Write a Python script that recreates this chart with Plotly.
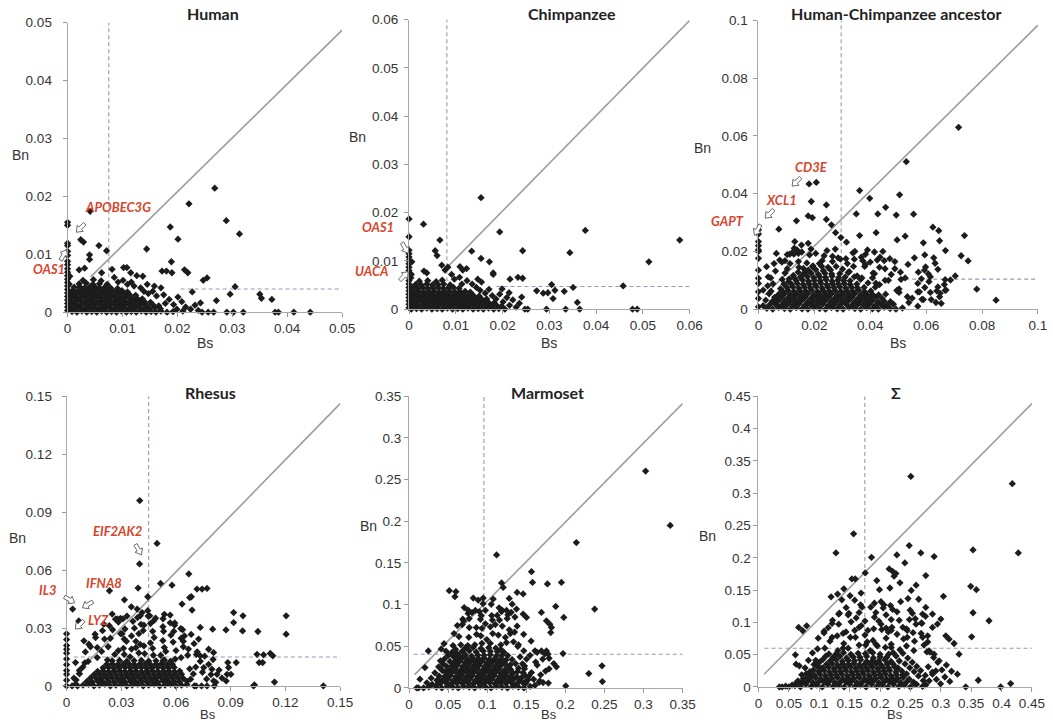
import math
import plotly.graph_objects as go

W, H = 1053, 728

# ================= DATA: (Bs, Bn) per gene =================
human_pts = [
 (.0008,.0001),(.0017,0),(.0026,.0002),(.0035,0),(.0044,.0001),(.0053,0),(.0062,.0002),(.0071,0),(.008,.0001),(.0089,0),(.0098,.0002),(.0107,0),(.0116,.0001),(.0125,0),(.0134,.0002),(.0143,0),(.0152,.0001),(.0161,0),(.017,.0002),(.0181,0),(.0192,.0001),
 (.0004,.0007),(.0013,.0006),(.0022,.0008),(.0031,.0006),(.004,.0007),(.0049,.0008),(.0058,.0006),(.0067,.0007),(.0076,.0008),(.0085,.0006),(.0094,.0007),(.0103,.0008),(.0112,.0006),(.0121,.0007),(.013,.0008),(.0139,.0006),(.0148,.0007),(.0158,.0008),(.0169,.0006),
 (.0008,.0013),(.0017,.0012),(.0026,.0014),(.0035,.0012),(.0044,.0013),(.0053,.0014),(.0062,.0012),(.0071,.0013),(.008,.0014),(.0089,.0012),(.0098,.0013),(.0107,.0014),(.0116,.0012),(.0125,.0013),(.0134,.0014),(.0143,.0012),(.0155,.0013),(.0166,.0011),
 (.0004,.0019),(.0013,.0018),(.0022,.002),(.0031,.0018),(.004,.0019),(.0049,.002),(.0058,.0018),(.0067,.0019),(.0076,.002),(.0085,.0018),(.0094,.0019),(.0103,.002),(.0112,.0018),(.0121,.0019),(.013,.002),(.014,.0018),(.0151,.0017),
 (.0008,.0025),(.0017,.0024),(.0026,.0026),(.0035,.0024),(.0044,.0025),(.0053,.0026),(.0062,.0024),(.0071,.0025),(.008,.0026),(.0089,.0024),(.0098,.0025),(.0107,.0026),(.0116,.0024),(.0125,.0025),(.0136,.0023),
 (.0004,.0031),(.0013,.003),(.0022,.0032),(.0031,.003),(.004,.0031),(.0049,.0032),(.0058,.003),(.0067,.0031),(.0076,.0032),(.0085,.003),(.0094,.0031),(.0103,.0032),(.0113,.003),(.0124,.0029),
 (.0009,.0037),(.0018,.0036),(.0027,.0038),(.0036,.0036),(.0045,.0037),(.0054,.0038),(.0063,.0036),(.0072,.0037),(.0081,.0038),(.009,.0036),(.0099,.0037),(.0109,.0035),
 (.0012,.0043),(.0022,.0044),(.0031,.0042),(.004,.0043),(.0049,.0044),(.0058,.0042),(.0068,.0043),(.0078,.0042),(.0091,.0041),
 (.0021,.0049),(.0034,.005),(.0046,.0048),(.0058,.0049),(.0072,.0048),(.0028,.0055),(.0047,.0056),(.0061,.0054),
 (0,.0003),(0,.0009),(0,.0015),(0,.0021),(0,.0027),(0,.0033),(0,.0039),(0,.0045),(0,.0051),(0,.0057),(0,.0063),(0,.0069),(0,.0075),(.0003,.0048),(.0004,.0062),
 (.0155,.0036),(.0162,.0028),(.0175,.003),(.0185,.0022),(.0178,.0015),(.0193,.0013),(.0201,.0026),(.0208,.0018),(.0215,.0009),(.0224,.0005),(.0232,.0012),(.017,.0042),(.0158,.0045),(.0145,.0048),(.0133,.0042),(.0139,.0036),(.0121,.0045),(.0109,.0048),(.0101,.0055),(.0092,.0052),(.0085,.006),(.0116,.0052),(.0147,.0032),(.0199,.0005),(.021,.0002),(.0238,.0003),
 (.0268,.0214),(.0221,.0187),(.0041,.0174),(.0289,.0158),(.0313,.0135),(.0187,.0147),(.0201,.0126),(0,.0155),(0,.015),(.0024,.0125),(.0029,.0121),(.0057,.0115),(.0071,.0106),(.0144,.0109),(0,.0119),(0,.0115),(.004,.0099),(.004,.0091),(.0189,.0087),(.0081,.0074),(.0102,.0077),(.0108,.0077),(.0172,.0071),(.018,.0071),(.019,.0068),(.0213,.0073),(.0219,.0068),(.0254,.0059),(.0247,.0055),(.0305,.0044),(.035,.0031),(.0353,.0024),(.0372,.0022),(.0296,.0031),(.0271,.002),(.0242,.0016),(.0245,0),(.0256,0),(.0266,0),(.029,0),(.0302,0),(.032,0),(.0378,0),(.0384,0),(.0412,0),(.0442,0),(.0227,.0035),(.0021,.0073),(.0031,.0076),(.0062,.0068),(.0115,.0068),(.0126,.0063),(.0137,.0062),(0,.0105),(0,.0098),(0,.0088),(0,.0082),
]

chimp_pts = [
 (.0005,0),(.0016,.0001),(.0027,0),(.0038,.0002),(.0049,0),(.006,.0001),(.0071,0),(.0082,.0002),(.0093,0),(.0104,.0001),(.0115,0),(.0126,.0002),(.0137,0),(.0148,.0001),(.0159,0),(.017,.0002),(.0181,0),(.0192,.0001),(.0205,0),
 (.001,.0008),(.0021,.0007),(.0032,.0009),(.0043,.0007),(.0054,.0008),(.0065,.0009),(.0076,.0007),(.0087,.0008),(.0098,.0009),(.0109,.0007),(.012,.0008),(.0131,.0009),(.0142,.0007),(.0153,.0008),(.0164,.0009),(.0175,.0007),(.0187,.0008),(.0198,.0006),
 (.0005,.0015),(.0016,.0014),(.0027,.0016),(.0038,.0014),(.0049,.0015),(.006,.0016),(.0071,.0014),(.0082,.0015),(.0093,.0016),(.0104,.0014),(.0115,.0015),(.0126,.0016),(.0137,.0014),(.0148,.0015),(.0159,.0016),(.017,.0014),(.0182,.0013),
 (.001,.0022),(.0021,.0023),(.0032,.0021),(.0043,.0022),(.0054,.0023),(.0065,.0021),(.0076,.0022),(.0087,.0023),(.0098,.0021),(.0109,.0022),(.012,.0023),(.0131,.0021),(.0142,.0022),(.0153,.0023),(.0166,.0021),
 (.0005,.0029),(.0016,.003),(.0027,.0028),(.0038,.0029),(.0049,.003),(.006,.0028),(.0071,.0029),(.0082,.003),(.0093,.0028),(.0104,.0029),(.0115,.003),(.0126,.0028),(.0137,.0029),(.015,.0027),
 (.001,.0036),(.0021,.0037),(.0032,.0035),(.0043,.0036),(.0054,.0037),(.0065,.0035),(.0076,.0036),(.0087,.0037),(.0098,.0035),(.0109,.0036),(.012,.0037),(.0131,.0035),
 (.0007,.0044),(.0018,.0043),(.0029,.0045),(.004,.0043),(.0051,.0044),(.0062,.0045),(.0073,.0043),(.0084,.0044),(.0095,.0045),(.0107,.0043),
 (.0014,.0051),(.0026,.005),(.0038,.0052),(.005,.005),(.0062,.0051),(.0074,.0052),(.0088,.005),(.0022,.0058),(.004,.0059),(.0058,.0057),(.0071,.006),
 (0,.0003),(0,.001),(0,.0017),(0,.0024),(0,.0031),(0,.0038),(0,.0045),(0,.0052),(0,.0059),(0,.0066),(0,.0073),(0,.008),(0,.0087),(0,.0094),(0,.0101),(0,.0108),(0,.0115),(0,.0122),(.0004,.0065),(.0005,.0072),(.0006,.0098),
 (.0135,.0052),(.0144,.0045),(.0152,.0039),(.0163,.0033),(.0171,.0041),(.0178,.0028),(.0186,.0021),(.0194,.0031),(.0201,.0015),(.0209,.0024),(.0215,.0008),(.0222,.0019),(.0229,.0004),(.0236,.0012),(.0241,.0025),(.0214,.0034),(.0199,.0042),(.0124,.0059),(.0113,.0052),(.0108,.0066),(.0097,.0062),(.0147,.0062),(.0155,.0056),
 (.0154,.0231),(.0031,.0176),(0,.0187),(0,.015),(.0066,.0143),(.0194,.016),(.0377,.0163),(.0579,.0143),(.0056,.0121),(.006,.0111),(.0134,.012),(.0243,.0121),(.0344,.0117),(.0154,.0105),(.0172,.0098),(.0513,.0098),(.018,.0075),(.018,.0072),(.0216,.0062),(.0233,.0066),(.0243,.0064),(.0273,.0038),(.0287,.0033),(.0297,.0034),(.0305,.0051),(.0308,.0022),(.0312,.0039),(.0332,.0037),(.0351,.0045),(.0458,.0048),(.036,.0014),(.0248,0),(.0254,0),(.0294,0),(.0335,0),(.0365,0),(.0478,0),(.0488,0),(.007,.0091),(.0077,.0081),(.0109,.0088),(.0115,.0081),(.0123,.0084),(.0032,.0079),(.0038,.0075),(.0083,.0087),(.0091,.0072),
]

ancestor_pts = [
 (.003,.0003),(.0051,0),(.0072,.0006),(.0093,.0002),(.0114,0),(.0135,.0005),(.0156,.0001),(.0177,0),(.0198,.0006),(.0219,.0002),(.024,0),(.0261,.0005),(.0282,.0001),(.0303,0),(.0324,.0006),(.0345,.0002),(.0366,0),(.0387,.0005),(.0408,.0001),(.0429,0),(.045,.0006),(.0471,.0002),(.0492,0),(.0515,.0004),
 (.004,.0015),(.0061,.0017),(.0082,.0013),(.0103,.0016),(.0124,.0014),(.0145,.0018),(.0166,.0013),(.0187,.0016),(.0208,.0015),(.0229,.0017),(.025,.0013),(.0271,.0016),(.0292,.0014),(.0313,.0018),(.0334,.0013),(.0355,.0016),(.0376,.0015),(.0397,.0017),(.0418,.0013),(.0439,.0016),(.046,.0014),(.0483,.0017),
 (.005,.0027),(.0071,.0029),(.0092,.0025),(.0113,.0028),(.0134,.0026),(.0155,.003),(.0176,.0025),(.0197,.0028),(.0218,.0027),(.0239,.0029),(.026,.0025),(.0281,.0028),(.0302,.0026),(.0323,.003),(.0344,.0025),(.0365,.0028),(.0386,.0027),(.0407,.0029),(.0428,.0025),(.0449,.0028),(.0472,.0026),
 (.0062,.0039),(.0083,.0041),(.0104,.0037),(.0125,.004),(.0146,.0038),(.0167,.0042),(.0188,.0037),(.0209,.004),(.023,.0039),(.0251,.0041),(.0272,.0037),(.0293,.004),(.0314,.0038),(.0335,.0042),(.0356,.0037),(.0377,.004),(.0398,.0039),(.0419,.0041),(.0442,.0037),
 (.0072,.0051),(.0093,.0053),(.0114,.0049),(.0135,.0052),(.0156,.005),(.0177,.0054),(.0198,.0049),(.0219,.0052),(.024,.0051),(.0261,.0053),(.0282,.0049),(.0303,.0052),(.0324,.005),(.0345,.0054),(.0366,.0049),(.0387,.0052),(.0408,.0051),(.043,.0049),
 (.0085,.0063),(.0106,.0065),(.0127,.0061),(.0148,.0064),(.0169,.0062),(.019,.0066),(.0211,.0061),(.0232,.0064),(.0253,.0063),(.0274,.0065),(.0295,.0061),(.0316,.0064),(.0337,.0062),(.0358,.0066),(.0379,.0061),(.0402,.0063),
 (.0102,.0075),(.0123,.0077),(.0144,.0073),(.0165,.0076),(.0186,.0074),(.0207,.0078),(.0228,.0073),(.0249,.0076),(.027,.0075),(.0291,.0077),(.0312,.0073),(.0333,.0076),(.0354,.0074),(.0378,.0075),
 (.0118,.0087),(.0139,.0089),(.016,.0085),(.0181,.0088),(.0202,.0086),(.0223,.009),(.0244,.0085),(.0265,.0088),(.0286,.0087),(.0307,.0089),(.0328,.0085),(.0352,.0087),
 (.0135,.0099),(.0158,.0101),(.0179,.0097),(.02,.01),(.0221,.0098),(.0242,.0102),(.0263,.0097),(.0284,.01),(.0305,.0099),(.0328,.0098),
 (.015,.0111),(.0175,.0113),(.0198,.0109),(.0219,.0112),(.024,.011),(.0263,.0114),(.0287,.0109),(.031,.0111),
 (.0162,.0123),(.0189,.0125),(.0214,.0121),(.0238,.0124),(.0262,.0122),(.0291,.0123),(.0178,.0135),(.0205,.0137),(.0232,.0133),(.0258,.0136),(.0193,.0147),(.0226,.0149),(.0249,.0145),
 (.0455,.0052),(.0418,.0076),(.0392,.0091),(.0365,.0103),(.0343,.0112),(.0321,.0127),(.0301,.0139),(.0278,.0148),(.0079,.0071),(.0091,.0087),(.0108,.0095),(.0125,.0117),(.0142,.0128),(.0161,.0141),(.0058,.0041),
 (.0085,.0103),(.011,.0105),(.0128,.0108),(.0353,.0115),(.037,.0108),(.0408,.0108),(.0415,.0123),(.0453,.01),(.0475,.012),
 (.0095,.0125),(.0103,.014),(.0145,.0145),(.0168,.013),(.0325,.013),(.034,.0148),(.038,.0148),(.041,.0125),(.0433,.0145),(.0453,.014),(.0488,.014),(.0508,.0128),
 (.0095,.0168),(.0113,.0158),(.0143,.0165),(.0173,.016),(.0195,.015),(.0218,.0158),(.0228,.0168),(.0265,.0165),(.0293,.0173),(.0318,.0158),(.0343,.0173),(.0373,.0168),(.0383,.0155),(.04,.0163),(.0425,.017),(.045,.0168),(.0488,.0165),
 (.012,.0195),(.0143,.0193),(.0155,.0198),(.0183,.0188),(.0205,.0193),(.0235,.0185),(.0265,.0183),(.0285,.0178),(.0313,.0175),(.0338,.0195),(.0368,.018),(.0383,.019),(.0415,.0198),(.0435,.018),(.047,.0175),
 (.0138,.0205),(.0188,.0208),(.0245,.0203),(.0275,.0208),(.0345,.02),(.039,.0205),(.0445,.02),
 (.0538,.0023),(.057,.001),(.059,.0033),(.0618,.0033),(.0635,.0023),(.0503,.0058),(.0533,.0043),(.055,.0038),(.0615,.0058),(.065,.0055),
 (.0495,.0065),(.0503,.007),(.057,.006),(.0595,.0075),(.0638,.0063),(.0668,.0065),(.042,.009),(.0433,.0085),(.0465,.01),(.051,.0103),(.0525,.0108),(.0583,.0105),(.061,.0095),(.0665,.0085),
 (.0535,.0155),(.0572,.0128),(.0598,.0146),(.0615,.0112),(.0558,.0178),(.0642,.0138),(.0595,.0188),(.0668,.0102),
 (.0038,.0053),(.0026,.0031),(.0017,.0012),(.0044,.0108),(.0061,.0132),(.0084,.0163),(.0103,.0189),(.0128,.0211),(.0033,.0081),(.0056,.0158),(.0045,.0062),(.0052,.0088),
 (.0716,.063),(.0529,.0511),(.0181,.0434),(.0207,.0439),(.0362,.0411),(.0398,.0384),(.0505,.0396),(.0189,.0373),(.0243,.0361),(.0455,.0353),(.035,.033),(.0427,.033),(.0493,.0326),(.0555,.0329),(.0178,.0323),(.0193,.0317),(.0136,.0306),(.0243,.0311),(.0261,.0292),(.0073,.0277),(0,.0275),(0,.026),(0,.022),(0,.02),(.0624,.0284),(.0645,.0272),(.0737,.0255),(.0362,.0255),(.0421,.0265),(.0496,.024),(.0525,.0253),(.059,.023),(.0648,.0237),(.0669,.0203),(.0725,.0185),(.075,.0167),(.0627,.0178),(.0632,.0159),(.0704,.0115),(.0687,.0101),(.0781,.0069),(.085,.0031),(.0594,.0135),(.0608,.0122),(.0642,.0077),(.0648,.0043),(.0654,.002),(.0671,.0066),(.057,.0089),(.0576,.006),(.0585,.0034),(.013,.0234),(.0154,.0222),(.0178,.0228),(.0112,.0191),(.0127,.0191),(.0064,.0193),(.0076,.017),(.0029,.0147),(.0035,.0112),(.0017,.0066),(0,.0234),(0,.0205),(0,.0176),(0,.0135),(0,.0107),(0,.0089),(0,.006),(0,.0037),(0,.0008),(.0276,.0265),(.0295,.0248),(.0315,.0232),
]

rhesus_pts = [
 (.006,0),(.009,.0004),(.012,.0008),(.015,0),(.018,.0004),(.021,.0008),(.024,0),(.027,.0004),(.03,.0008),(.033,0),(.036,.0004),(.039,.0008),(.042,0),(.045,.0004),(.048,.0008),(.051,0),(.054,.0004),(.057,.0008),(.06,0),(.063,.0004),(.066,.0008),(.07,0),
 (.011,.0022),(.014,.002),(.017,.0025),(.02,.0021),(.023,.0023),(.026,.002),(.029,.0025),(.032,.0021),(.035,.0023),(.038,.002),(.041,.0025),(.044,.0021),(.047,.0023),(.05,.002),(.053,.0025),(.056,.0021),(.059,.0023),(.062,.002),(.066,.0024),
 (.013,.004),(.016,.0042),(.019,.0038),(.022,.0041),(.025,.0043),(.028,.0039),(.031,.004),(.034,.0042),(.037,.0038),(.04,.0041),(.043,.0043),(.046,.0039),(.049,.004),(.052,.0042),(.055,.0038),(.058,.0041),(.061,.0043),(.064,.0039),
 (.015,.0058),(.018,.006),(.021,.0056),(.024,.0059),(.027,.0061),(.03,.0057),(.033,.0058),(.036,.006),(.039,.0056),(.042,.0059),(.045,.0061),(.048,.0057),(.051,.0058),(.054,.006),(.057,.0056),(.06,.0059),(.063,.0061),
 (.017,.0076),(.02,.0078),(.023,.0074),(.026,.0077),(.029,.0079),(.032,.0075),(.035,.0076),(.038,.0078),(.041,.0074),(.044,.0077),(.047,.0079),(.05,.0075),(.053,.0076),(.056,.0078),(.059,.0074),(.062,.0077),
 (.02,.0094),(.023,.0096),(.026,.0092),(.029,.0095),(.032,.0097),(.035,.0093),(.038,.0094),(.041,.0096),(.044,.0092),(.047,.0095),(.05,.0097),(.053,.0093),(.056,.0094),(.059,.0096),
 (.022,.0112),(.025,.0114),(.028,.011),(.031,.0113),(.034,.0115),(.037,.0111),(.04,.0112),(.043,.0114),(.046,.011),(.049,.0113),(.052,.0115),(.055,.0111),(.058,.0112),
 (.025,.013),(.029,.0132),(.033,.0128),(.037,.0131),(.041,.0133),(.045,.0129),(.049,.013),(.053,.0132),(.057,.0128),
 (.0168,.0147),(.0224,.0135),(.0264,.0163),(.0316,.0163),(.0348,.0151),(.0396,.0171),(.0428,.0167),(.0476,.0159),(.0516,.0159),(.0536,.0135),(.0596,.0139),(.0628,.0147),(.0664,.0159),(.0712,.0163),
 (.0192,.0179),(.0228,.0203),(.0284,.0183),(.0312,.0195),(.0356,.0191),(.038,.0199),(.0424,.0207),(.0472,.0195),(.0536,.0199),(.0544,.0179),(.06,.0183),(.064,.0203),(.0668,.0191),
 (.0208,.0243),(.024,.0247),(.0316,.0243),(.0328,.0231),(.038,.0231),(.0404,.0215),(.046,.0223),(.048,.0251),(.0528,.0235),(.0584,.0227),(.0628,.0247),(.064,.0231),
 (.0252,.0291),(.0296,.0271),(.0304,.0271),(.0356,.0259),(.0396,.0271),(.042,.0287),(.0472,.0283),(.0532,.0283),(.0572,.0263),(.0588,.0283),(.0636,.0291),
 (.0284,.0331),(.032,.0295),(.0372,.0299),(.0408,.0319),(.0424,.0315),(.046,.0323),(.0528,.0307),(.0568,.0327),(.0592,.0315),
 (.0308,.0347),(.0364,.0335),(.0404,.0363),(.0456,.0363),(.0488,.0351),(.0536,.0371),(.0568,.0367),
 (.0699,.0219),(.0708,.0098),(.0716,.0177),(.0724,.0243),(.0733,.0128),(.0745,.0071),(.0757,.0154),(.0768,.0036),(.0779,.0112),(.0792,.0059),(.0803,.0137),(.0818,.0019),(.0836,.0082),(.0852,.0041),(.068,.0035),(.0695,.0062),(.0675,.0089),(.071,0),(.074,0),(.077,0),
 (.0089,.0098),(.0071,.0063),(.0052,.0031),(.0118,.0127),(.0103,.0176),(.0131,.0203),(.0156,.0268),(.003,0),(.005,.001),(.01,.012),(.007,.008),(.004,.004),
 (.0197,.0286),(.0234,.0312),(.0278,.0347),(.0331,.0362),(.0389,.0354),(.0447,.0362),(.0478,.0338),(.0529,.0348),(.0593,.0326),(.0626,.0297),(.0683,.0267),(.0646,.0259),
 (.0401,.096),(.0496,.0738),(.04,.0632),(.0392,.0507),(.0235,.0493),(.0317,.0446),(.0515,.0531),(.0578,.0522),(.067,.058),(.0715,.0502),(.0743,.0502),(.077,.0505),(.0445,.0462),(.0675,.0458),(.0684,.0462),(.0633,.0424),(.0688,.0393),(.0916,.038),(.0967,.0363),(.1204,.0363),(.1204,.0268),(.0916,.0328),(.0965,.0285),(.0874,.029),(.1049,.0282),(.0801,.0294),(.0733,.0303),(.1117,.0168),(.1131,.0156),(.1044,.0164),(.108,.0161),(.1056,.0121),(.1075,.0121),(.093,.0121),(.0884,.0121),(.0888,.0095),(.088,.006),(.0901,.006),(.114,.002),(.1408,0),(.1025,0),(.103,.0005),(.0875,.0026),(.0797,.0087),(.0825,.006),(.0806,.0026),(.0733,.0156),(.0752,.0095),(.0806,.0173),(.0779,.019),(0,.027),(0,.024),(0,.021),(0,.019),(0,.017),(0,.014),(0,.011),(0,.008),(0,.006),(0,.003),(0,0),(.0049,.0121),(.0095,.0234),(.0122,.0216),(.0168,.0199),(.0159,.0251),(.0204,.032),(.025,.0372),(.0268,.0346),(.0387,.0398),(.0414,.038),(.0033,.0398),(.0067,.0337),(.0445,.039),(.0295,.035),(.0355,.041),(.081,0),
]

marmoset_pts = [
 (.035,.001),(.042,0),(.049,.002),(.056,.001),(.063,0),(.07,.002),(.077,.001),(.084,0),(.091,.002),(.098,.001),(.105,0),(.112,.002),(.119,.001),(.126,0),(.133,.002),(.14,.001),(.147,0),(.155,.002),
 (.04,.0055),(.047,.0065),(.054,.005),(.061,.006),(.068,.0055),(.075,.0065),(.082,.005),(.089,.006),(.096,.0055),(.103,.0065),(.11,.005),(.117,.006),(.124,.0055),(.131,.0065),(.138,.005),(.146,.006),
 (.043,.0097),(.05,.0105),(.057,.009),(.064,.01),(.071,.0097),(.078,.0105),(.085,.009),(.092,.01),(.099,.0097),(.106,.0105),(.113,.009),(.12,.01),(.127,.0097),(.134,.0105),(.142,.009),
 (.046,.014),(.053,.0148),(.06,.0133),(.067,.0143),(.074,.014),(.081,.0148),(.088,.0133),(.095,.0143),(.102,.014),(.109,.0148),(.116,.0133),(.123,.0143),(.13,.014),(.138,.0135),
 (.048,.018),(.055,.0188),(.062,.0173),(.069,.0183),(.076,.018),(.083,.0188),(.09,.0173),(.097,.0183),(.104,.018),(.111,.0188),(.118,.0173),(.125,.0183),(.133,.0178),
 (.052,.022),(.059,.0228),(.066,.0213),(.073,.0223),(.08,.022),(.087,.0228),(.094,.0213),(.101,.0223),(.108,.022),(.115,.0228),(.122,.0213),(.13,.0222),
 (.055,.0265),(.062,.0273),(.069,.0258),(.076,.0268),(.083,.0265),(.09,.0273),(.097,.0258),(.104,.0268),(.111,.0265),(.118,.0273),(.126,.026),
 (.058,.031),(.065,.0318),(.072,.0303),(.079,.0313),(.086,.031),(.093,.0318),(.1,.0303),(.107,.0313),(.114,.031),(.122,.0305),
 (.061,.035),(.068,.0358),(.075,.0343),(.082,.0353),(.089,.035),(.096,.0358),(.103,.0343),(.11,.0353),(.118,.035),
 (.064,.039),(.072,.0398),(.08,.0383),(.088,.0393),(.096,.039),(.104,.0398),(.112,.0385),
 (.068,.044),(.077,.0448),(.086,.0433),(.095,.0443),(.104,.044),(.113,.0435),(.072,.048),(.082,.0488),(.092,.0473),(.102,.0483),(.111,.0478),
 (.0385,.0142),(.0412,.0227),(.0436,.0288),(.0391,.0083),(.0455,.0349),(.0478,.0263),(.0502,.0391),(.0524,.0318),(.0549,.0426),(.0571,.0374),(.0597,.0462),(.0358,.0041),(.0467,.0195),(.0615,.0412),
 (.1612,.0031),(.1523,.0098),(.1487,.0071),(.1458,.0182),(.1437,.0121),(.1401,.0237),(.1389,.0198),(.1362,.0292),(.1318,.0341),(.1295,.0276),(.1263,.0389),(.1241,.0336),(.1212,.0429),(.1189,.0392),(.1176,.0461),(.1534,.0142),(.1478,.0263),
 (.0563,.0509),(.0662,.0518),(.0752,.0509),(.0842,.0518),(.0932,.0536),(.0995,.0581),(.104,.0536),(.1175,.0518),(.1247,.0545),(.1337,.0554),(.14,.0518),(.1562,.0563),
 (.0576,.0653),(.0639,.0617),(.0765,.0608),(.0864,.0644),(.0918,.0626),(.1071,.0653),(.1143,.0635),(.1233,.0608),(.1296,.0653),(.135,.0671),(.1467,.0644),
 (.0681,.0761),(.0771,.0725),(.0861,.0725),(.0933,.0716),(.1041,.0734),(.1104,.0761),(.1194,.0743),(.1284,.0698),(.1383,.0743),
 (.0698,.0806),(.077,.0833),(.0914,.0824),(.0977,.077),(.1067,.0815),(.1157,.0815),(.1256,.0833),(.1355,.0851),
 (.0806,.0905),(.0923,.0869),(.0977,.0932),(.1058,.0869),(.1193,.0932),(.1265,.0878),
 (.1495,.0059),(.1594,.0104),(.1666,.0068),(.1783,.0059),(.1486,.0149),(.1567,.0185),(.1684,.0158),(.1747,.0203),(.1477,.023),(.1621,.0311),(.1639,.0275),(.1792,.023),(.1504,.0347),(.1549,.0392),(.1711,.0347),(.1792,.0356),(.1468,.0446),(.1612,.0446),(.1639,.0428),(.1738,.041),
 (.0121,0),(.0186,0),(.0254,.0012),(.0228,.0061),(.0297,.0043),(.0283,.0117),(.0331,.0182),(.0357,.0092),(.0379,.0254),(.0402,.0326),(.0426,.0208),(.0412,.0468),(.0448,.0531),(.0473,.0442),
 (.1052,.1004),(.1153,.0962),(.1247,.0931),(.0947,.1012),(.0849,.0931),(.0756,.0894),(.0688,.0826),(.0618,.0749),(.1128,.0871),(.1307,.0908),(.1183,.0917),(.1392,.0498),(.1421,.0373),(.1452,.0289),
 (.3027,.2603),(.3342,.195),(.2141,.1745),(.112,.1597),(.1567,.1396),(.158,.1267),(.1771,.1248),(.195,.1267),(.2375,.0947),(.1877,.0978),(.198,.0846),(.0515,.1167),(.06,.1155),(.0587,.1095),(.1184,.126),(.1205,.1207),(.0822,.1079),(.0885,.1055),(.0949,.1079),(.1077,.1067),(.197,.0413),(.2005,.0024),(.2469,.0265),(.23,.0172),(.2474,.0076),(.1758,.0806),(.1801,.0766),(.1822,.0726),(.1813,.0665),(.1694,.0906),(.146,.1128),(.1383,.1147),(.1375,.0947),(.146,.0887),(.1503,.0846),(.1852,.0292),(.1886,.0253),(.1694,.0445),(.1758,.0445),(.1779,.0405),(.1673,.0084),(.1715,.0064),(.0098,0),(.0247,.0445),(.0204,.0244),(.014,.0105),(.0755,.0935),(.0706,.0965),(.0901,.0915),(.1282,.1075),(.132,.1005),
]

sigma_pts = [
 (.06,.002),(.069,0),(.078,.004),(.087,.001),(.096,.003),(.105,0),(.114,.004),(.123,.001),(.132,.003),(.141,0),(.15,.004),(.159,.001),(.168,.003),(.177,0),(.186,.004),(.195,.001),(.204,.003),(.213,0),(.222,.004),(.231,.001),(.24,.003),(.25,0),(.26,.004),(.27,.001),
 (.072,.0075),(.081,.009),(.09,.0065),(.099,.008),(.108,.0075),(.117,.009),(.126,.0065),(.135,.008),(.144,.0075),(.153,.009),(.162,.0065),(.171,.008),(.18,.0075),(.189,.009),(.198,.0065),(.207,.008),(.216,.0075),(.225,.009),(.234,.0065),(.244,.008),(.255,.0075),
 (.085,.013),(.094,.0145),(.103,.012),(.112,.0135),(.121,.013),(.13,.0145),(.139,.012),(.148,.0135),(.157,.013),(.166,.0145),(.175,.012),(.184,.0135),(.193,.013),(.202,.0145),(.211,.012),(.22,.0135),(.229,.013),(.238,.0145),(.248,.012),
 (.092,.0185),(.101,.02),(.11,.0175),(.119,.019),(.128,.0185),(.137,.02),(.146,.0175),(.155,.019),(.164,.0185),(.173,.02),(.182,.0175),(.191,.019),(.2,.0185),(.209,.02),(.218,.0175),(.227,.019),(.237,.0185),
 (.099,.024),(.108,.0255),(.117,.023),(.126,.0245),(.135,.024),(.144,.0255),(.153,.023),(.162,.0245),(.171,.024),(.18,.0255),(.189,.023),(.198,.0245),(.207,.024),(.216,.0255),(.226,.023),(.236,.0245),
 (.106,.0295),(.115,.031),(.124,.0285),(.133,.03),(.142,.0295),(.151,.031),(.16,.0285),(.169,.03),(.178,.0295),(.187,.031),(.196,.0285),(.205,.03),(.214,.0295),(.224,.031),
 (.112,.035),(.121,.0365),(.13,.034),(.139,.0355),(.148,.035),(.157,.0365),(.166,.034),(.175,.0355),(.184,.035),(.193,.0365),(.202,.034),(.212,.0355),(.222,.035),
 (.118,.0405),(.128,.042),(.138,.0395),(.148,.041),(.158,.0405),(.168,.042),(.178,.0395),(.188,.041),(.198,.0405),(.208,.042),(.218,.0395),
 (.123,.046),(.134,.0475),(.145,.045),(.156,.0465),(.167,.046),(.178,.0475),(.189,.045),(.2,.0465),(.211,.046),(.128,.0515),(.14,.053),(.152,.0505),(.164,.052),(.176,.0515),(.188,.053),(.2,.0505),
 (.2265,.0478),(.2318,.0402),(.2376,.0521),(.2412,.0356),(.2457,.0448),(.2489,.0297),(.2531,.0382),(.2562,.0236),(.2604,.0318),(.2633,.0171),(.2668,.0254),(.2712,.0098),(.2295,.0295),(.2436,.0204),(.2217,.0531),(.2143,.0507),
 (.0651,.0094),(.0737,.0128),(.0785,.0203),(.0861,.0178),(.0902,.0261),(.0958,.0322),(.1004,.0383),(.1062,.0429),(.1107,.0476),(.1158,.0512),(.0698,.0042),(.0812,.0151),(.0943,.0412),(.1024,.0291),
 (.0972,.0588),(.1092,.06),(.1308,.0564),(.1392,.06),(.1476,.06),(.1656,.0648),(.1764,.0648),(.1836,.0564),(.1956,.0636),(.2088,.0612),(.2184,.0612),(.2328,.0576),(.2436,.0636),(.2556,.0564),(.2724,.0648),(.282,.054),
 (.0984,.0756),(.1176,.0708),(.1212,.0768),(.1404,.0672),(.1512,.0768),(.1596,.0768),(.1788,.0696),(.1884,.072),(.1932,.066),(.21,.0756),(.2184,.066),(.2388,.0744),(.2448,.0768),(.2568,.0708),(.27,.0768),(.2784,.0696),
 (.108,.0864),(.1296,.0792),(.1392,.0828),(.144,.0852),(.1584,.0876),(.1752,.0804),(.18,.0876),(.2028,.0888),(.2136,.0852),(.2184,.0876),(.228,.0816),(.2448,.0876),(.2544,.084),(.2676,.0828),(.2784,.0792),
 (.1212,.0984),(.132,.0972),(.1524,.1008),(.1656,.0924),(.1692,.0948),(.1896,.09),(.2016,.0972),(.21,.0912),(.2196,.0924),(.2376,.0924),(.2436,.09),(.2592,.0972),(.2688,.0984),
 (.132,.1128),(.1476,.1116),(.1608,.1068),(.1752,.102),(.1908,.108),(.198,.102),(.21,.1116),(.2184,.1044),(.2316,.1032),(.2484,.1044),(.258,.1056),(.27,.1128),
 (.1488,.114),(.1656,.1152),(.1704,.1236),(.1848,.1236),(.1932,.1152),(.2052,.1224),(.2208,.12),(.228,.1164),(.2496,.1188),(.2532,.114),
 (.1584,.1344),(.168,.1272),(.1908,.1296),(.2016,.132),(.2064,.1272),(.2172,.126),(.234,.132),(.246,.1368),
 (.0712,.0187),(.0768,.0294),(.0823,.0412),(.0847,.0236),(.0889,.0527),(.0914,.0348),(.0628,.0071),(.0553,.0029),(.0497,0),(.0446,.0012),
 (.2793,.0312),(.2861,.0228),(.2883,.0456),(.2928,.0117),(.2951,.0381),(.2996,.0049),(.3018,.0263),(.3067,.0154),(.3092,.0339),(.3148,.0085),(.3176,.0243),(.2771,.0542),(.2745,.0178),(.2808,.0095),
 (.1372,.1349),(.1507,.1412),(.1688,.1453),(.1991,.1506),(.2163,.1532),(.2328,.1612),(.2514,.1495),(.2594,.1576),(.1947,.1648),(.2231,.1715),(.1332,.1141),(.1443,.1227),(.1219,.1032),(.1079,.0836),(.1148,.0918),(.2636,.1358),(.2748,.1093),(.2681,.0991),
 (.2507,.326),(.4176,.3147),(.1565,.2371),(.1275,.2076),(.248,.219),(.2671,.2076),(.289,.2019),(.353,.2122),(.4275,.2076),(.186,.2008),(.2277,.2045),(.2408,.192),(.2151,.1827),(.2206,.179),(.2261,.1755),(.1757,.1765),(.1538,.1672),(.1593,.1672),(.2753,.1724),(.3043,.1403),(.3492,.1558),(.3585,.1506),(.353,.1149),(.3793,.1025),(.3508,.0776),(.33,.0507),(.3082,.0792),(.3136,.074),(.3218,.0673),(.3273,.0197),(.3617,.0104),(.4149,.0052),(.3985,0),(.341,0),(.2562,.0052),(.2753,.0031),(.2863,.0197),(.2918,.0248),(.2972,.0404),(.289,.0507),(.2808,.0559),(.2863,.0921),(.2945,.0973),(.3,.1051),(.2753,.1231),(.2863,.1128),(.0662,.0921),(.0728,.087),(.0793,.0947),(.0608,.0497),(.0619,.0352),(.0673,.0326),(.0345,0),(.0389,0),(.1405,.152),(.1302,.1438),(.1195,.1395),
]

# thresholds (Bs cut-off, Bn cut-off, start of the Bn cut-off line)
human_thr = (0.0075, 0.004, 0.0206)
chimp_thr = (0.0081, 0.0047, 0.0187)
ancestor_thr = (0.0296, 0.0104, 0.05)
rhesus_thr = (0.045, 0.015, 0.004)
marmoset_thr = (0.0958, 0.0405, 0.006)
sigma_thr = (0.175, 0.06, 0.01)

# reference (Bn ~ Bs) line end points
human_diag = ([0.0042, 0.05], [0.0061, 0.0487])
chimp_diag = ([0.008, 0.06], [0.0085, 0.0598])
ancestor_diag = ([0.0023, 0.1], [0.0049, 0.0984])
rhesus_diag = ([0.0051, 0.15], [0.006, 0.1462])
marmoset_diag = ([0.0072, 0.35], [0.016, 0.3413])
sigma_diag = ([0.0093, 0.45], [0.0197, 0.4388])

human_ticks = [0, 0.01, 0.02, 0.03, 0.04, 0.05]
human_labels = ["0", "0.01", "0.02", "0.03", "0.04", "0.05"]
chimp_ticks = [0, 0.01, 0.02, 0.03, 0.04, 0.05, 0.06]
chimp_labels = ["0", "0.01", "0.02", "0.03", "0.04", "0.05", "0.06"]
ancestor_ticks = [0, 0.02, 0.04, 0.06, 0.08, 0.1]
ancestor_labels = ["0", "0.02", "0.04", "0.06", "0.08", "0.1"]
rhesus_ticks = [0, 0.03, 0.06, 0.09, 0.12, 0.15]
rhesus_labels = ["0", "0.03", "0.06", "0.09", "0.12", "0.15"]
marmoset_ticks = [0, 0.05, 0.1, 0.15, 0.2, 0.25, 0.3, 0.35]
marmoset_labels = ["0", "0.05", "0.1", "0.15", "0.2", "0.25", "0.3", "0.35"]
sigma_ticks = [0, 0.05, 0.1, 0.15, 0.2, 0.25, 0.3, 0.35, 0.4, 0.45]
sigma_labels = ["0", "0.05", "0.1", "0.15", "0.2", "0.25", "0.3", "0.35", "0.4", "0.45"]

titles = ["Human", "Chimpanzee", "Human-Chimpanzee ancestor", "Rhesus", "Marmoset", "Σ"]

# ================= LAYOUT GEOMETRY (target pixels in the picture) =================
boxes = [(67, 342, 312, 23), (409, 690, 309, 20), (759, 1039, 309, 21),
         (66, 340, 685, 396), (409, 683, 687, 396), (759, 1033, 686, 396)]
title_pos = [(213, 14), (572, 14), (897, 14), (210, 392), (548, 392), (897, 392)]
bn_pos = [(20, 155), (357, 137), (703, 148), (17, 537), (368, 525), (708, 535)]
bs_pos = [(205, 343), (549, 343), (899, 343), (208, 720), (549, 720), (896, 720)]
ytick_standoff = [8, 3, 3, 7, 0, 0]

panels = [
    (human_pts, human_thr, human_diag, human_ticks, human_labels),
    (chimp_pts, chimp_thr, chimp_diag, chimp_ticks, chimp_labels),
    (ancestor_pts, ancestor_thr, ancestor_diag, ancestor_ticks, ancestor_labels),
    (rhesus_pts, rhesus_thr, rhesus_diag, rhesus_ticks, rhesus_labels),
    (marmoset_pts, marmoset_thr, marmoset_diag, marmoset_ticks, marmoset_labels),
    (sigma_pts, sigma_thr, sigma_diag, sigma_ticks, sigma_labels),
]

# gene labels: (text, label px, arrow px, arrow angle)
gene_labels = [
    ("APOBEC3G", (117, 207), (80, 228), 225),
    ("OAS1", (48, 269), (63, 255), 60),
    ("OAS1", (378, 227), (405, 248), 300),
    ("UACA", (371, 271), (404, 276), 45),
    ("CD3E", (812, 167), (797, 182), 225),
    ("XCL1", (782, 200), (770, 214), 225),
    ("GAPT", (728, 221), (758, 230), 240),
    ("EIF2AK2", (117, 530), (138, 549), 300),
    ("IFNA8", (103, 582), (87, 604), 210),
    ("IL3", (47, 589), (69, 599), 330),
    ("LYZ", (98, 619), (79, 624), 225),
]

# the photographed page maps page pixels p to picture pixels c + s*p; invert it
SX, CX, SY, CY = 0.9855, 3.3, 0.9773, 7.5


def px_x(tx):
    return min(max(((tx - CX) / SX) / W, 0), 1)


def px_y(ty):
    return min(max(1 - ((ty - CY) / SY) / H, 0), 1)


TICKFONT = dict(family="Liberation Sans, Arial, sans-serif", size=13.5, color="#333333")
DASH_COLOR = "#8d9db5"

fig = go.Figure()
layout = dict(width=W, height=H, margin=dict(l=0, r=0, t=0, b=0),
              paper_bgcolor="white", plot_bgcolor="white", showlegend=False)
annotations = []
shapes = []

for i, (pts, thr, diag, ticks, labels) in enumerate(panels):
    n = "" if i == 0 else str(i + 1)
    xa, ya = "x" + n, "y" + n
    xl, xr, yb, yt = boxes[i]
    xmax = ymax = ticks[-1]
    bs = [p[0] for p in pts]
    bn = [p[1] for p in pts]
    bs_thr, bn_thr, bn_start = thr

    fig.add_trace(go.Scatter(x=diag[0], y=diag[1], mode="lines", xaxis=xa, yaxis=ya,
                             line=dict(color="#9c9c9c", width=1.6), hoverinfo="skip"))
    fig.add_trace(go.Scatter(x=[bs_thr, bs_thr], y=[0, ymax], mode="lines", xaxis=xa, yaxis=ya,
                             line=dict(color=DASH_COLOR, width=1.1, dash="4px,3px"), hoverinfo="skip"))
    fig.add_trace(go.Scatter(x=[bn_start, xmax], y=[bn_thr, bn_thr], mode="lines", xaxis=xa, yaxis=ya,
                             line=dict(color=DASH_COLOR, width=1.1, dash="4px,3px"), hoverinfo="skip"))
    fig.add_trace(go.Scatter(x=bs, y=bn, mode="markers", xaxis=xa, yaxis=ya, cliponaxis=False,
                             marker=dict(size=5.6, color="#1c1c1c", symbol="diamond", line=dict(width=0)),
                             hoverinfo="skip"))

    common = dict(showgrid=False, zeroline=False, showline=True,
                  linecolor="#a8a8a8", linewidth=1, ticks="outside", ticklen=4,
                  tickcolor="#999999", tickfont=TICKFONT, fixedrange=True)
    layout["xaxis" + n] = dict(common, range=[0, xmax], tickvals=ticks, ticktext=labels,
                               domain=[px_x(xl), px_x(xr)], anchor=ya)
    layout["yaxis" + n] = dict(common, range=[0, ymax], tickvals=ticks, ticktext=labels,
                               domain=[px_y(yb), px_y(yt)], anchor=xa,
                               ticklabelstandoff=ytick_standoff[i])

    tx, ty = title_pos[i]
    annotations.append(dict(text="<b>%s</b>" % titles[i], x=px_x(tx), y=px_y(ty), xref="paper", yref="paper",
                            xanchor="center", yanchor="middle", showarrow=False,
                            font=dict(family="Lato, Open Sans, sans-serif", size=16, color="#222222")))
    bx, by = bn_pos[i]
    annotations.append(dict(text="Bn", x=px_x(bx), y=px_y(by), xref="paper", yref="paper",
                            xanchor="center", yanchor="middle", showarrow=False,
                            font=dict(family="Liberation Sans, Arial, sans-serif", size=14, color="#333333")))
    sx, sy = bs_pos[i]
    if px_y(sy) < 0.012:
        # lowest row: the label sits on the bottom edge of the page
        annotations.append(dict(text="Bs", x=px_x(sx), y=0, xref="paper", yref="paper",
                                xanchor="center", yanchor="bottom", yshift=-3, borderpad=0, showarrow=False,
                                font=dict(family="Liberation Sans, Arial, sans-serif", size=13, color="#333333")))
    else:
        annotations.append(dict(text="Bs", x=px_x(sx), y=px_y(sy), xref="paper", yref="paper",
                                xanchor="center", yanchor="middle", showarrow=False,
                                font=dict(family="Liberation Sans, Arial, sans-serif", size=14, color="#333333")))


def block_arrow(angle):
    base = [(-6, -1.8), (0.5, -1.8), (0.5, -4.3), (6, 0), (0.5, 4.3), (0.5, 1.8), (-6, 1.8)]
    a = math.radians(angle)
    rot = [(x * math.cos(a) - y * math.sin(a), x * math.sin(a) + y * math.cos(a)) for x, y in base]
    return "M " + " L ".join("%.2f,%.2f" % p for p in rot) + " Z"


for text, (lx, ly), (ax_, ay_), ang in gene_labels:
    annotations.append(dict(text="<b><i>%s</i></b>" % text, x=px_x(lx), y=px_y(ly), xref="paper", yref="paper",
                            xanchor="center", yanchor="middle", showarrow=False,
                            font=dict(family="Lato, Open Sans, sans-serif", size=13, color="#d6452c")))
    shapes.append(dict(type="path", xref="paper", yref="paper", xsizemode="pixel", ysizemode="pixel",
                       xanchor=px_x(ax_), yanchor=px_y(ay_), path=block_arrow(ang),
                       fillcolor="white", line=dict(color="#6a6a6a", width=1)))

layout["annotations"] = annotations
layout["shapes"] = shapes
fig.update_layout(**layout)

fig.write_html("out.html", config={"displayModeBar": False},
               post_script="document.body.style.margin='0';")
